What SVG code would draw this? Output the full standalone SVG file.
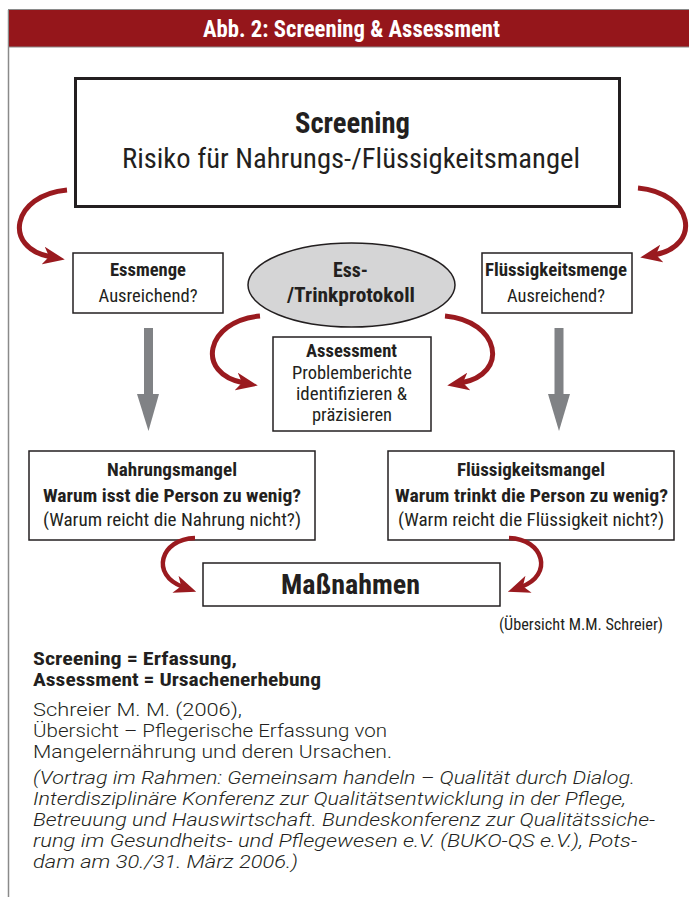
<svg xmlns="http://www.w3.org/2000/svg" width="689" height="897" viewBox="0 0 689 897">
<style>
.cd{font-family:"Liberation Sans Narrow","Roboto Condensed","DejaVu Sans Condensed","Liberation Sans",sans-serif;font-stretch:condensed;fill:#231f20;text-anchor:middle}
.b{font-weight:bold}
.box{fill:#fff;stroke:#231f20;stroke-width:1.5}
.red{fill:none;stroke:#9a1a1f;stroke-width:5;marker-end:url(#rh)}
.gray{fill:#808285}
.ft{font-family:Roboto,"Liberation Sans",Arial,sans-serif;font-weight:300;fill:#231f20;font-size:18px}
.fb{font-family:"Liberation Sans Narrow","Roboto Condensed","Liberation Sans",sans-serif;font-stretch:condensed;font-weight:bold;fill:#231f20;font-size:19px}
</style>
<defs>
<marker id="rh" markerUnits="userSpaceOnUse" markerWidth="22" markerHeight="18" viewBox="0 0 22 18" refX="8" refY="9" orient="auto">
<path d="M0,0 L22,9 L0,18 L6,9 z" fill="#9a1a1f"/>
</marker>
</defs>
<rect width="689" height="897" fill="#fff"/>
<line x1="8.5" y1="10" x2="8.5" y2="897" stroke="#8a8a8a" stroke-width="1.5"/>
<g id="header">
<rect x="8.5" y="9.5" width="681" height="37.5" fill="#95161b" stroke="#8a8a8a" stroke-width="1"/>
<text class="cd b" x="351.5" y="37" font-size="23" style="fill:#fff" textLength="297" lengthAdjust="spacingAndGlyphs">Abb. 2: Screening &amp; Assessment</text>
</g>
<g id="screening">
<rect x="75.5" y="78.5" width="544" height="128" fill="#fff" stroke="#231f20" stroke-width="3"/>
<text class="cd b" x="352.5" y="133" font-size="29" textLength="115" lengthAdjust="spacingAndGlyphs">Screening</text>
<text class="cd" x="351" y="168" font-size="27" textLength="458" lengthAdjust="spacingAndGlyphs">Risiko für Nahrungs-/Flüssigkeitsmangel</text>
</g>
<g id="essmenge">
<rect class="box" x="73" y="253" width="150" height="60"/>
<text class="cd b" x="148" y="276" font-size="18" textLength="76" lengthAdjust="spacingAndGlyphs">Essmenge</text>
<text class="cd" x="148" y="302" font-size="18" textLength="99" lengthAdjust="spacingAndGlyphs">Ausreichend?</text>
</g>
<g id="protokoll">
<ellipse cx="351.5" cy="285" rx="103.5" ry="42" fill="#d5d5d6" stroke="#231f20" stroke-width="1.5"/>
<text class="cd b" x="350.5" y="277" font-size="21" textLength="35" lengthAdjust="spacingAndGlyphs">Ess-</text>
<text class="cd b" x="351" y="302" font-size="21" textLength="128" lengthAdjust="spacingAndGlyphs">/Trinkprotokoll</text>
</g>
<g id="fluessigkeitsmenge">
<rect class="box" x="482" y="253" width="150" height="60"/>
<text class="cd b" x="556" y="276" font-size="18" textLength="142" lengthAdjust="spacingAndGlyphs">Flüssigkeitsmenge</text>
<text class="cd" x="556" y="302" font-size="18" textLength="98" lengthAdjust="spacingAndGlyphs">Ausreichend?</text>
</g>
<g id="assessment">
<rect class="box" x="273" y="337" width="158" height="94"/>
<text class="cd b" x="351.5" y="357" font-size="18" textLength="91" lengthAdjust="spacingAndGlyphs">Assessment</text>
<text class="cd" x="352" y="379" font-size="18" textLength="120" lengthAdjust="spacingAndGlyphs">Problemberichte</text>
<text class="cd" x="351.5" y="400" font-size="18" textLength="111" lengthAdjust="spacingAndGlyphs">identifizieren &amp;</text>
<text class="cd" x="352" y="421" font-size="18" textLength="80" lengthAdjust="spacingAndGlyphs">präzisieren</text>
</g>
<g id="nahrungsmangel">
<rect class="box" x="29" y="451" width="286" height="89"/>
<text class="cd b" x="172" y="476" font-size="18" textLength="130" lengthAdjust="spacingAndGlyphs">Nahrungsmangel</text>
<text class="cd b" x="172" y="502" font-size="18" textLength="258" lengthAdjust="spacingAndGlyphs">Warum isst die Person zu wenig?</text>
<text class="cd" x="172" y="526" font-size="18" textLength="258" lengthAdjust="spacingAndGlyphs">(Warum reicht die Nahrung nicht?)</text>
</g>
<g id="fluessigkeitsmangel">
<rect class="box" x="388" y="451" width="286" height="89"/>
<text class="cd b" x="531" y="476" font-size="18" textLength="148" lengthAdjust="spacingAndGlyphs">Flüssigkeitsmangel</text>
<text class="cd b" x="531.5" y="502" font-size="18" textLength="273" lengthAdjust="spacingAndGlyphs">Warum trinkt die Person zu wenig?</text>
<text class="cd" x="531" y="526" font-size="18" textLength="266" lengthAdjust="spacingAndGlyphs">(Warm reicht die Flüssigkeit nicht?)</text>
</g>
<g id="massnahmen">
<rect class="box" x="203" y="563" width="297" height="43"/>
<text class="cd b" x="350.5" y="594" font-size="27" textLength="139" lengthAdjust="spacingAndGlyphs">Maßnahmen</text>
</g>
<g id="connectors">
<path class="red" d="M67,190 C12,195 2,248 51,257"/>
<path class="red" d="M638,188 C693,193 703,246 654,255"/>
<path class="red" d="M260,316 C205,321 195,374 244,383"/>
<path class="red" d="M445,316 C500,321 510,374 461,383"/>
<path class="red" d="M195,538 C160,539 150,575 183,587" style="stroke-width:4.5"/>
<path class="red" d="M509,538 C544,539 554,575 521,587" style="stroke-width:4.5"/>
<rect class="gray" x="144" y="328" width="9" height="68"/>
<polygon class="gray" points="137,394 159,394 148.5,431"/>
<rect class="gray" x="554.5" y="328" width="9" height="68"/>
<polygon class="gray" points="548,394 570,394 559,431"/>
</g>
<g id="notes">
<text class="cd" x="663" y="630" font-size="16" style="text-anchor:end" textLength="164" lengthAdjust="spacingAndGlyphs">(Übersicht M.M. Schreier)</text>
<text class="fb" x="33" y="665" textLength="204" lengthAdjust="spacingAndGlyphs">Screening = Erfassung,</text>
<text class="fb" x="33" y="686" textLength="288" lengthAdjust="spacingAndGlyphs">Assessment = Ursachenerhebung</text>
<text class="ft" x="33" y="716" textLength="209" lengthAdjust="spacingAndGlyphs">Schreier M. M. (2006),</text>
<text class="ft" x="33" y="737" textLength="354" lengthAdjust="spacingAndGlyphs">Übersicht – Pflegerische Erfassung von</text>
<text class="ft" x="33" y="758" textLength="359" lengthAdjust="spacingAndGlyphs">Mangelernährung und deren Ursachen.</text>
<text class="ft" x="33" y="784" font-style="italic" textLength="602" lengthAdjust="spacingAndGlyphs">(Vortrag im Rahmen: Gemeinsam handeln – Qualität durch Dialog.</text>
<text class="ft" x="33" y="805" font-style="italic" textLength="593" lengthAdjust="spacingAndGlyphs">Interdisziplinäre Konferenz zur Qualitätsentwicklung in der Pflege,</text>
<text class="ft" x="33" y="826" font-style="italic" textLength="622" lengthAdjust="spacingAndGlyphs">Betreuung und Hauswirtschaft. Bundeskonferenz zur Qualitätssiche-</text>
<text class="ft" x="33" y="847" font-style="italic" textLength="604" lengthAdjust="spacingAndGlyphs">rung im Gesundheits- und Pflegewesen e.V. (BUKO-QS e.V.), Pots-</text>
<text class="ft" x="33" y="868" font-style="italic" textLength="265" lengthAdjust="spacingAndGlyphs">dam am 30./31. März 2006.)</text>
</g>
</svg>
